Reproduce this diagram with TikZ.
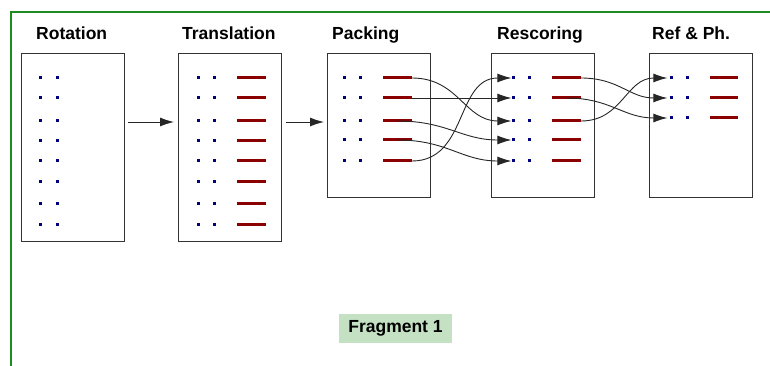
\documentclass[tikz,border=0pt]{standalone}
\usepackage{fontspec}
\setmainfont{Liberation Sans}
\usetikzlibrary{arrows.meta}

\definecolor{framegreen}{HTML}{1E8C1E}
\definecolor{rowred}{HTML}{8B0000}
\definecolor{dotblue}{HTML}{000080}
\definecolor{tagfill}{HTML}{C4E1C4}

\begin{document}
\begin{tikzpicture}[x=1pt,y=-1pt,
  stage/.style={draw=black!80, line width=1pt, minimum width=103pt,
    inner sep=0pt, anchor=north west},
  title/.style={font=\bfseries\fontsize{17.5}{20}\selectfont, inner sep=0pt,
    anchor=base west},
  dot/.style={fill=dotblue, minimum size=3pt, inner sep=0pt},
  bar/.style={draw=rowred, line width=3pt},
  flow/.style={draw=black!85, line width=0.9pt, -{Latex[length=14pt,width=9pt]}},
  swap/.style={flow, out=0, in=180, looseness=1.1},
  tag/.style={fill=tagfill, minimum width=113pt, minimum height=29pt,
    inner sep=0pt, font=\bfseries\fontsize{17.5}{20}\selectfont},
  ]
\useasboundingbox (0,0) rectangle (770,366);

% outer frame
\draw[framegreen, line width=2.4pt] (11,366) -- (11,12) -- (770,12);

% stage boxes
\node[stage, minimum height=187pt] (rot)   at (21,53.5)  {};
\node[stage, minimum height=187pt] (trans) at (178,53.5) {};
\node[stage, minimum height=143pt] (pack)  at (327,53.5) {};
\node[stage, minimum height=143pt] (resc)  at (491,53.5) {};
\node[stage, minimum height=143pt] (refp)  at (649,53.5) {};

% stage titles
\node[title] (t-rot)   at (36,40)  {Rotation};
\node[title] (t-trans) at (182,40) {Translation};
\node[title] (t-pack)  at (332,40) {Packing};
\node[title] (t-resc)  at (497,40) {Rescoring};
\node[title] (t-refp)  at (652,40) {Ref \& Ph.};

% rotation: dot pairs only
\foreach \i/\y in {1/78,2/98,3/121,4/141,5/161,6/181,7/203,8/224} {
  \node[dot] (rt-p\i) at (40,\y) {};
  \node[dot] (rt-q\i) at (57,\y) {};
}
% translation: dot pairs and bars
\foreach \i/\y in {1/78,2/98,3/121,4/141,5/161,6/181,7/203,8/224} {
  \node[dot] (tr-p\i) at (198,\y) {};
  \node[dot] (tr-q\i) at (214,\y) {};
  \coordinate (tr-a\i) at (237,\y);
  \coordinate (tr-b\i) at (266,\y);
  \draw[bar] (tr-a\i) -- (tr-b\i);
}
% packing
\foreach \i/\y in {1/78,2/98,3/121,4/140,5/161} {
  \node[dot] (pk-p\i) at (344,\y) {};
  \node[dot] (pk-q\i) at (360,\y) {};
  \coordinate (pk-a\i) at (383,\y);
  \coordinate (pk-b\i) at (412,\y);
  \draw[bar] (pk-a\i) -- (pk-b\i) coordinate[pos=0.5] (pk-m\i);
}
% rescoring
\foreach \i/\y in {1/78,2/98,3/121,4/140,5/161} {
  \node[dot] (rs-p\i) at (513,\y) {};
  \node[dot] (rs-q\i) at (529,\y) {};
  \coordinate (rs-a\i) at (552,\y);
  \coordinate (rs-b\i) at (581,\y);
  \draw[bar] (rs-a\i) -- (rs-b\i) coordinate[pos=0.5] (rs-m\i);
}
% refinement & phasing
\foreach \i/\y in {1/78,2/98,3/118} {
  \node[dot] (rf-p\i) at (671,\y) {};
  \node[dot] (rf-q\i) at (687,\y) {};
  \coordinate (rf-a\i) at (710,\y);
  \coordinate (rf-b\i) at (738,\y);
  \draw[bar] (rf-a\i) -- (rf-b\i);
}

% stage to stage flow
\coordinate (lane) at (0,122);
\draw[flow] ([xshift=3pt]rot.east |- lane) -- ([xshift=-4pt]trans.west |- lane);
\draw[flow] ([xshift=4pt]trans.east |- lane) -- ([xshift=-3pt]pack.west |- lane);

% packing -> rescoring reordering
\draw[swap] (pk-b1) to (rs-p3.west);
\draw[flow] (pk-b2) -- (rs-p2.west);
\draw[swap] (pk-m3) to (rs-p4.west);
\draw[swap] (pk-m4) to (rs-p5.west);
\draw[swap] (pk-b5) to (rs-p1.west);

% rescoring -> refinement reordering
\draw[swap] (rs-b1) to ([xshift=-2pt]rf-p2.west);
\draw[swap] (rs-m2) to ([xshift=-2pt]rf-p3.west);
\draw[swap] (rs-b3) to ([xshift=-2pt]rf-p1.west);

% fragment label
\node[tag] (frag) at (395.5,328.5) {Fragment 1};
\end{tikzpicture}
\end{document}
